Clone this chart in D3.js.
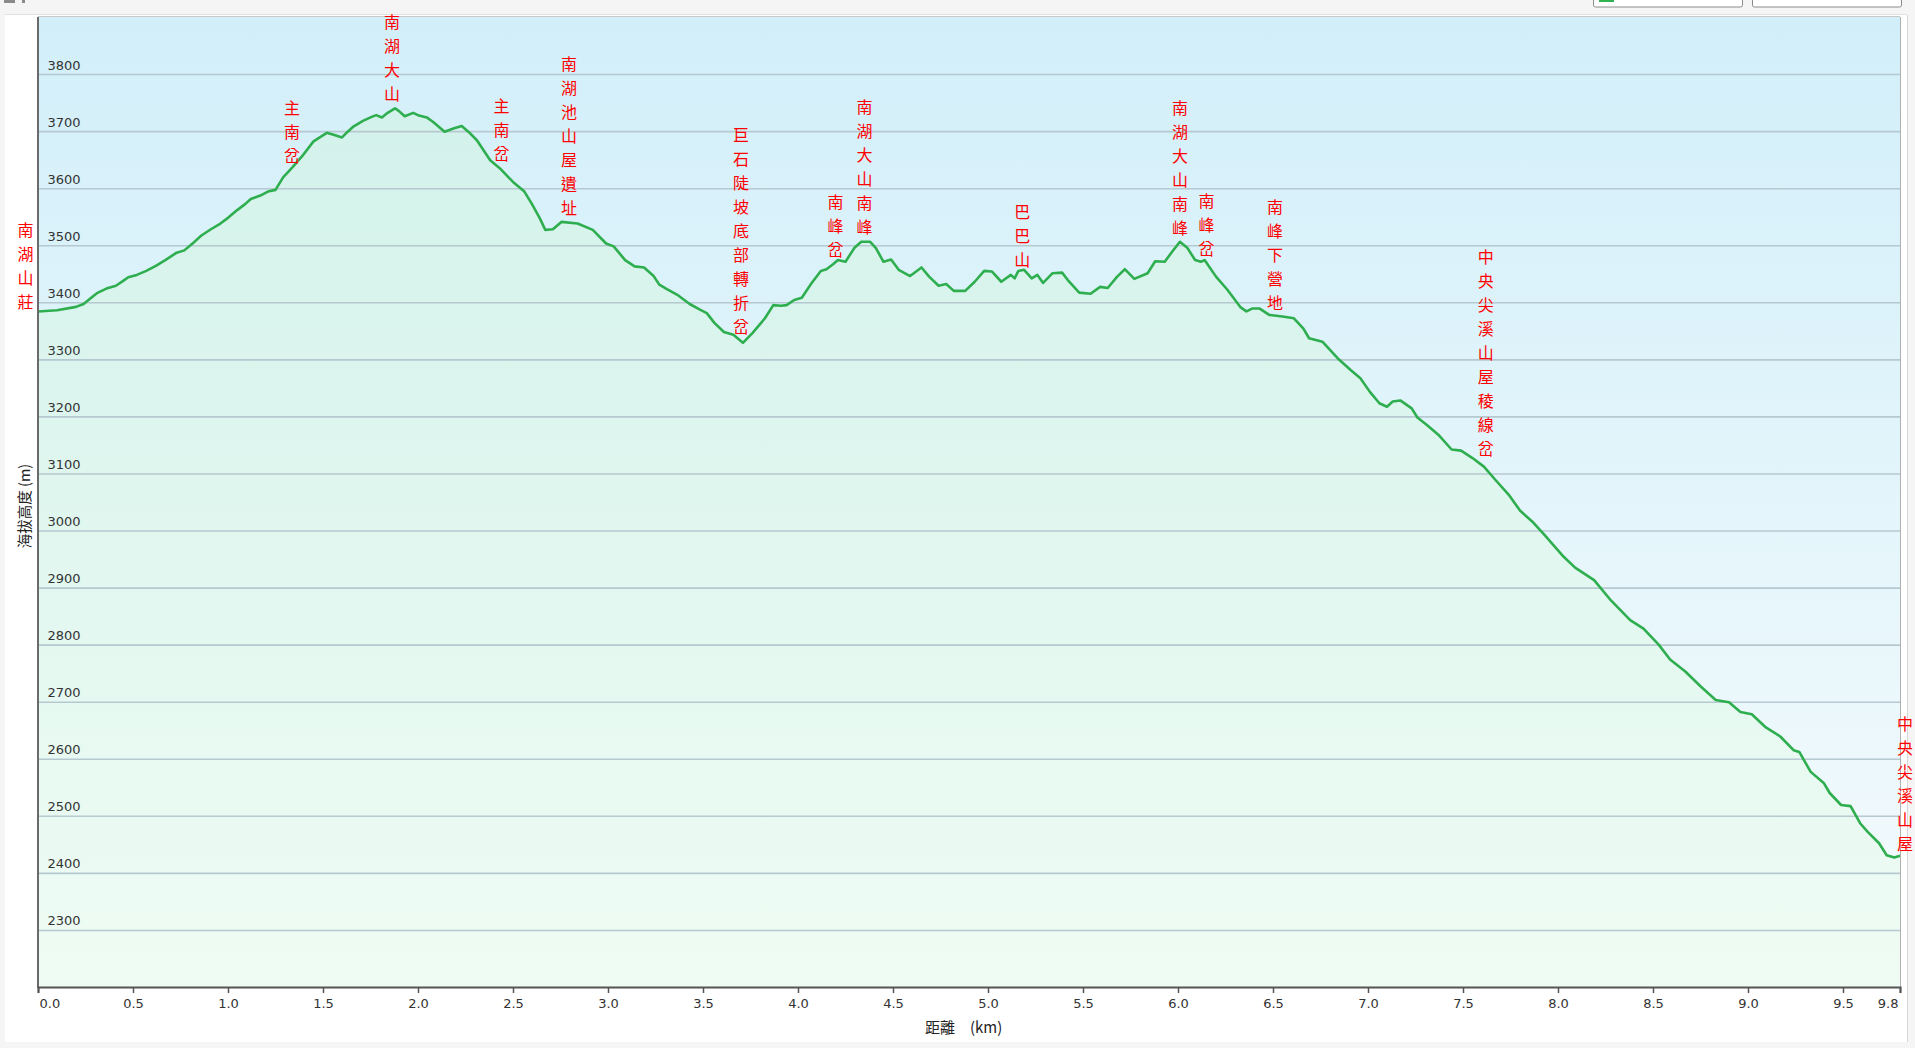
<!DOCTYPE html>
<html><head><meta charset="utf-8">
<script src="https://cdn.jsdelivr.net/npm/d3@7"></script>
<style>
html,body{margin:0;padding:0;background:#f4f4f4;overflow:hidden;}
svg{display:block;}
</style></head><body>
<svg id="chart" width="1915" height="1048"></svg>
<script>
// ---- data ----
const distanceKm = [0.00,0.10,0.20,0.24,0.28,0.31,0.36,0.41,0.45,0.475,0.52,0.57,0.62,0.67,0.73,0.77,0.82,0.86,0.91,0.96,1.00,1.05,1.09,1.12,1.17,1.21,1.25,1.29,1.34,1.39,1.45,1.52,1.56,1.60,1.63,1.66,1.71,1.756,1.78,1.81,1.84,1.879,1.90,1.93,1.975,2.00,2.046,2.08,2.14,2.19,2.23,2.265,2.31,2.38,2.43,2.50,2.56,2.60,2.64,2.67,2.71,2.756,2.84,2.92,2.99,3.03,3.09,3.14,3.19,3.24,3.27,3.31,3.37,3.43,3.484,3.52,3.56,3.61,3.66,3.71,3.76,3.826,3.87,3.91,3.94,3.98,4.02,4.07,4.12,4.15,4.186,4.21,4.25,4.296,4.333,4.38,4.41,4.45,4.49,4.53,4.59,4.65,4.69,4.74,4.78,4.82,4.88,4.93,4.98,5.02,5.07,5.12,5.14,5.16,5.19,5.23,5.26,5.29,5.34,5.39,5.42,5.48,5.54,5.59,5.63,5.68,5.72,5.77,5.84,5.88,5.93,5.97,6.01,6.05,6.09,6.12,6.14,6.20,6.26,6.33,6.36,6.39,6.43,6.48,6.55,6.61,6.66,6.69,6.76,6.84,6.91,6.96,7.01,7.06,7.10,7.13,7.17,7.23,7.26,7.31,7.37,7.44,7.49,7.55,7.61,7.67,7.74,7.80,7.87,7.93,8.03,8.09,8.19,8.28,8.38,8.45,8.53,8.59,8.67,8.75,8.83,8.90,8.96,9.02,9.09,9.17,9.24,9.27,9.33,9.40,9.43,9.49,9.54,9.59,9.63,9.69,9.73,9.77,9.80];
const elevationM = [3384,3386,3392,3397,3408,3416,3424,3429,3438,3444,3448,3455,3464,3474,3487,3491,3505,3517,3528,3538,3548,3562,3572,3581,3587,3594,3597,3619,3637,3656,3682,3697,3693,3689,3699,3708,3718,3725,3728,3724,3732,3740,3735,3726,3732,3728,3724,3716,3699,3705,3709,3699,3684,3649,3635,3611,3594,3572,3548,3527,3528,3541,3538,3527,3503,3498,3474,3463,3461,3446,3431,3423,3412,3397,3387,3381,3364,3348,3343,3329,3346,3372,3395,3394,3395,3404,3408,3433,3455,3458,3467,3474,3471,3495,3506,3506,3495,3471,3475,3457,3446,3461,3445,3429,3432,3420,3420,3436,3455,3454,3436,3448,3442,3455,3457,3442,3448,3434,3451,3452,3439,3417,3415,3427,3425,3445,3458,3441,3451,3472,3471,3489,3506,3495,3474,3471,3474,3445,3422,3391,3384,3389,3389,3378,3375,3372,3354,3337,3331,3302,3281,3267,3243,3223,3217,3226,3228,3214,3198,3185,3168,3142,3140,3127,3112,3089,3063,3035,3014,2992,2954,2935,2913,2877,2843,2828,2800,2774,2753,2727,2703,2699,2682,2678,2656,2639,2615,2612,2577,2557,2540,2519,2517,2487,2472,2452,2431,2427,2430];

const waypointNames = ["南湖山莊","主南岔","南湖大山","主南岔","南湖池山屋遺址","巨石陡坡底部轉折岔","南峰岔","南湖大山南峰","巴巴山","南湖大山南峰","南峰岔","南峰下營地","中央尖溪山屋稜線岔","中央尖溪山屋"];
const waypointKm    = [0.00, 1.337, 1.863, 2.44, 2.795, 3.70, 4.197, 4.35, 5.18, 6.01, 6.15, 6.51, 7.62, 9.80];
const waypointElev  = [3376, 3632, 3741, 3635, 3541, 3332, 3467, 3507, 3450, 3506, 3469, 3374, 3118, 2426];

const xTickValues = [0,0.5,1,1.5,2,2.5,3,3.5,4,4.5,5,5.5,6,6.5,7,7.5,8,8.5,9,9.5,9.8];
const yTickValues = [2300,2400,2500,2600,2700,2800,2900,3000,3100,3200,3300,3400,3500,3600,3700,3800];
const xAxisTitle = "距離　(km)";
const yAxisTitle = "海拔高度 (m)";

// ---- layout ----
const W = 1915, H = 1048;
const P = {left: 38, right: 1900, top: 17, bottom: 987};
const svg = d3.select("#chart");

const x = d3.scaleLinear().domain([0, 9.8]).range([P.left, P.right]);
const y = d3.scaleLinear().domain([2200, 3900]).range([P.bottom, P.top]);

const defs = svg.append("defs");
const bgGrad = defs.append("linearGradient").attr("id","bgGrad")
  .attr("gradientUnits","userSpaceOnUse").attr("x1",0).attr("x2",0).attr("y1",P.top).attr("y2",P.bottom);
bgGrad.append("stop").attr("offset","0%").attr("stop-color","#d2eff9");
bgGrad.append("stop").attr("offset","100%").attr("stop-color","#f5fbfd");
const areaGrad = defs.append("linearGradient").attr("id","areaGrad")
  .attr("gradientUnits","userSpaceOnUse").attr("x1",0).attr("x2",0).attr("y1",P.top).attr("y2",P.bottom);
areaGrad.append("stop").attr("offset","0%").attr("stop-color","#d0f1ea");
areaGrad.append("stop").attr("offset","100%").attr("stop-color","#effcf4");

// page chrome
svg.append("rect").attr("x",0).attr("y",0).attr("width",W).attr("height",H).attr("fill","#f5f5f5");
svg.append("rect").attr("x",5).attr("y",15).attr("width",1902).attr("height",1027).attr("fill","#ffffff");
svg.append("line").attr("x1",5).attr("x2",1907).attr("y1",14.5).attr("y2",14.5).attr("stroke","#e2e2e2");
svg.append("line").attr("x1",1907.5).attr("x2",1907.5).attr("y1",15).attr("y2",1042).attr("stroke","#d8d8d8");
svg.append("rect").attr("x",1593.5).attr("y",-6).attr("width",149).attr("height",13).attr("rx",2)
  .attr("fill","#fff").attr("stroke","#8c8c8c");
svg.append("rect").attr("x",1599).attr("y",-2).attr("width",15).attr("height",4).attr("fill","#2fb24f");
svg.append("rect").attr("x",1752.5).attr("y",-6).attr("width",149).attr("height",13).attr("rx",2)
  .attr("fill","#fff").attr("stroke","#8c8c8c");
svg.append("rect").attr("x",4).attr("y",0).attr("width",11).attr("height",3).attr("fill","#8a8a8a");
svg.append("rect").attr("x",22).attr("y",0).attr("width",3).attr("height",3).attr("fill","#8a8a8a");

// plot background
svg.append("rect").attr("x",P.left).attr("y",P.top).attr("width",P.right-P.left).attr("height",P.bottom-P.top)
  .attr("fill","url(#bgGrad)");

const pts = distanceKm.map((d,i)=>[d, elevationM[i]]);

// area
const area = d3.area().x(d=>x(d[0])).y0(y(2200)).y1(d=>y(d[1]));
svg.append("path").datum(pts).attr("d",area).attr("fill","url(#areaGrad)");

// grid + y labels
const yAxis = d3.axisLeft(y).tickValues(yTickValues).tickSize(-(P.right-P.left)).tickFormat(d3.format("d"));
const gy = svg.append("g").attr("transform",`translate(${P.left},0)`).call(yAxis);
gy.select(".domain").remove();
gy.selectAll(".tick line").attr("stroke","#b6c8d0").attr("stroke-width",1.6);
gy.selectAll(".tick text").attr("x",9.5).attr("dy",0).attr("y",-5).attr("text-anchor","start")
  .attr("fill","#333").style("font","13px 'DejaVu Sans', Verdana, sans-serif");

// line
const line = d3.line().x(d=>x(d[0])).y(d=>y(d[1]));
svg.append("path").datum(pts).attr("d",line).attr("fill","none")
  .attr("stroke","#2eae4e").attr("stroke-width",2.6).attr("stroke-linejoin","round");

// frame
svg.append("line").attr("x1",P.left).attr("x2",P.right).attr("y1",P.top-0.5).attr("y2",P.top-0.5).attr("stroke","#c9c9c9");
svg.append("line").attr("x1",P.right+0.5).attr("x2",P.right+0.5).attr("y1",P.top).attr("y2",P.bottom).attr("stroke","#b0b0b0");
svg.append("line").attr("x1",P.left).attr("x2",P.left).attr("y1",P.top).attr("y2",P.bottom+1).attr("stroke","#6a6a6a").attr("stroke-width",2);

// x axis
const xAxis = d3.axisBottom(x).tickValues(xTickValues).tickSize(6).tickPadding(6).tickFormat(d3.format(".1f"));
const gx = svg.append("g").attr("transform",`translate(0,${P.bottom})`).call(xAxis);
gx.select(".domain").attr("stroke","#555").attr("stroke-width",2);
gx.selectAll(".tick line").attr("stroke","#555").attr("stroke-width",1.5);
gx.selectAll(".tick text").attr("fill","#333").style("font","13px 'DejaVu Sans', Verdana, sans-serif");
gx.selectAll(".tick text").filter(d=>d===0).attr("text-anchor","start").attr("x",1);
gx.selectAll(".tick text").filter(d=>d===9.8).attr("text-anchor","end").attr("x",-2);

// axis titles
svg.append("text").attr("x",925).attr("y",1033).text(xAxisTitle)
  .attr("fill","#222").style("font","15px 'Noto Sans CJK TC', sans-serif");
svg.append("text").attr("transform","translate(30,506) rotate(-90)").attr("text-anchor","middle").text(yAxisTitle)
  .attr("fill","#222").style("font","14.5px 'Noto Sans CJK TC', sans-serif");

// waypoint labels (vertical, stacked characters)
const lineStep = 24;
const gl = svg.append("g");
waypointNames.forEach((name,i)=>{
  const chars = Array.from(name);
  let cx = x(waypointKm[i]);
  if (i === 0) cx -= 12.5;
  if (i === waypointNames.length-1) cx += 5;
  const baseY = y(waypointElev[i]) - 8;
  const t = gl.append("text").attr("text-anchor","middle").attr("fill","#ff0000")
    .style("font","16px 'Noto Sans CJK TC', sans-serif");
  chars.forEach((c,j)=>{
    t.append("tspan").attr("x",cx).attr("y",baseY - (chars.length-1-j)*lineStep).text(c);
  });
});
</script>
</body></html>
